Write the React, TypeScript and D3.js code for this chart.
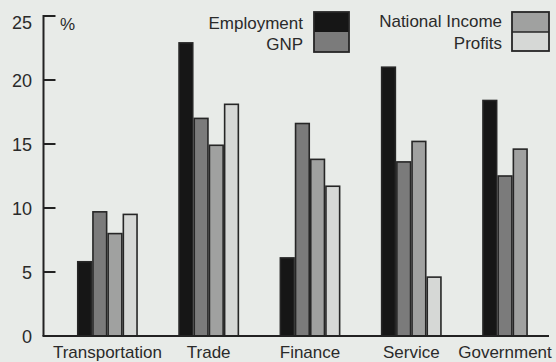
import React from "react";
import * as d3 from "d3";

const categories = ["Transportation", "Trade", "Finance", "Service", "Government"];
const seriesNames = ["Employment", "GNP", "National Income", "Profits"];
const employment = [5.8, 22.9, 6.1, 21.0, 18.4];
const gnp = [9.7, 17.0, 16.6, 13.6, 12.5];
const nationalIncome = [8.0, 14.9, 13.8, 15.2, 14.6];
const profits: (number | null)[] = [9.5, 18.1, 11.7, 4.6, null];
const yTicks = [0, 5, 10, 15, 20, 25];

const fills = ["#161616", "#7b7b7b", "#a0a1a0", "#d6d8d6"];
const W = 556;
const H = 362;
const FONT = "'Liberation Sans', Arial, Helvetica, sans-serif";

export default function App() {
  const series = [employment, gnp, nationalIncome, profits];
  const y = d3.scaleLinear().domain([0, 25]).range([336, 16]);
  const x = d3.scaleBand<string>().domain(categories).range([77, 543]).paddingInner(0.4).paddingOuter(0);
  const sub = d3.scaleBand<string>().domain(seriesNames).range([0, x.bandwidth()]);
  const axisX = 43.5;

  return (
    <svg width={W} height={H} style={{ position: "absolute", left: 0, top: 0, background: "#e8ebe8" }} fontFamily={FONT}>
      <rect width={W} height={H} fill="#e8ebe8" />
      {/* bars */}
      {categories.map((c, ci) => (
        <g key={c}>
          {series.map((s, si) => {
            const v = s[ci];
            if (v == null) return null;
            const bx = (x(c) as number) + (sub(seriesNames[si]) as number);
            return (
              <rect
                key={si}
                x={bx + 0.75}
                y={y(v)}
                width={sub.bandwidth() - 1.5}
                height={y(0) - y(v)}
                fill={fills[si]}
                stroke="#262626"
                strokeWidth={1.6}
              />
            );
          })}
        </g>
      ))}
      {/* y axis */}
      <line x1={axisX} x2={axisX} y1={y(25) - 1} y2={y(0)} stroke="#222" strokeWidth={2} />
      {yTicks.map((t) => (
        <g key={t}>
          {t > 0 && <line x1={axisX} x2={axisX + 12} y1={y(t)} y2={y(t)} stroke="#222" strokeWidth={2} />}
          <text x={32} y={y(t) + (t === 25 ? 13 : 7)} textAnchor="end" fontSize={18} fill="#2a2a2a">
            {t}
          </text>
        </g>
      ))}
      <text x={60} y={30} fontSize={17} fill="#2a2a2a">%</text>
      {/* baseline */}
      <line x1={axisX - 1} x2={549} y1={y(0)} y2={y(0)} stroke="#222" strokeWidth={2} />
      {/* category labels */}
      {categories.map((c, ci) => {
        const n = series.filter((s) => s[ci] != null).length;
        const cx = (x(c) as number) + (n * sub.step()) / 2;
        return (
          <text key={c} x={cx} y={358} textAnchor="middle" fontSize={17} fill="#2a2a2a">
            {c}
          </text>
        );
      })}
      {/* legend */}
      <g fontSize={17} fill="#2a2a2a" textAnchor="end">
        <text x={303} y={29}>{seriesNames[0]}</text>
        <text x={303} y={50}>{seriesNames[1]}</text>
        <text x={502} y={27}>{seriesNames[2]}</text>
        <text x={502} y={49}>{seriesNames[3]}</text>
      </g>
      <rect x={314} y={12} width={35} height={20} fill={fills[0]} />
      <rect x={314} y={32} width={35} height={20} fill={fills[1]} />
      <rect x={314} y={12} width={35} height={40} fill="none" stroke="#262626" strokeWidth={1.8} />
      <rect x={512} y={12} width={37} height={20} fill={fills[2]} />
      <rect x={512} y={32} width={37} height={19} fill={fills[3]} />
      <line x1={512} x2={549} y1={32} y2={32} stroke="#262626" strokeWidth={1.6} />
      <rect x={512} y={12} width={37} height={39} fill="none" stroke="#262626" strokeWidth={1.8} />
    </svg>
  );
}
